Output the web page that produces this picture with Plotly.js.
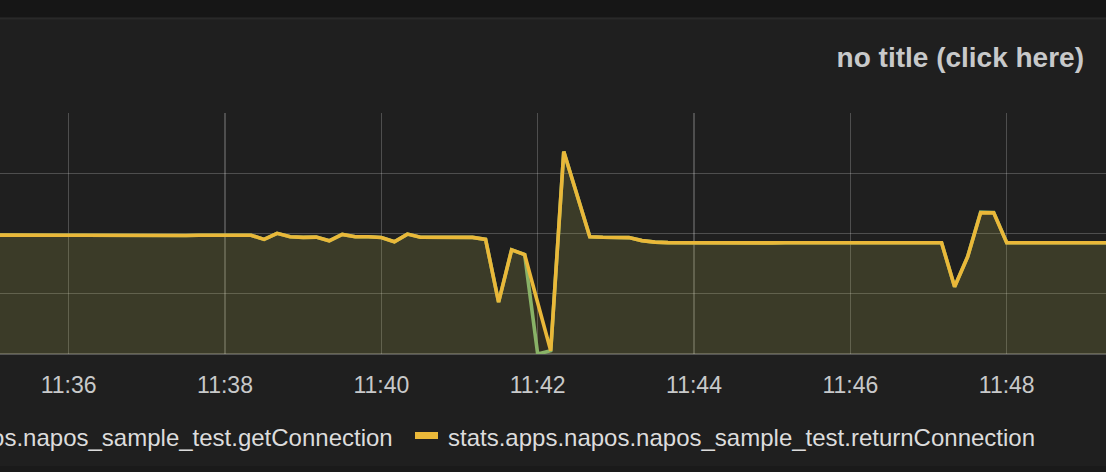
<!DOCTYPE html>
<html>
<head>
<meta charset="utf-8">
<script src="https://cdn.plot.ly/plotly-3.0.1.min.js"></script>
<style>
  html, body { margin: 0; padding: 0; background: #1f1f1f; }
  #chart { width: 1106px; height: 472px; }
</style>
</head>
<body>
<div id="chart"></div>
<script>
// ---- data ----
const day = "2015-06-10";
const times = [
  "11:35:00","11:35:10","11:35:20","11:35:30","11:35:40","11:35:50",
  "11:36:00","11:36:10","11:36:20","11:36:30","11:36:40","11:36:50",
  "11:37:00","11:37:10","11:37:20","11:37:30","11:37:40","11:37:50",
  "11:38:00","11:38:10","11:38:20","11:38:30","11:38:40","11:38:50",
  "11:39:00","11:39:10","11:39:20","11:39:30","11:39:40","11:39:50",
  "11:40:00","11:40:10","11:40:20","11:40:30","11:40:40","11:40:50",
  "11:41:00","11:41:10","11:41:20","11:41:30","11:41:40","11:41:50",
  "11:42:00","11:42:10","11:42:20","11:42:30","11:42:40","11:42:50",
  "11:43:00","11:43:10","11:43:20","11:43:30","11:43:40","11:43:50",
  "11:44:00","11:44:10","11:44:20","11:44:30","11:44:40","11:44:50",
  "11:45:00","11:45:10","11:45:20","11:45:30","11:45:40","11:45:50",
  "11:46:00","11:46:10","11:46:20","11:46:30","11:46:40","11:46:50",
  "11:47:00","11:47:10","11:47:20","11:47:30","11:47:40","11:47:50",
  "11:48:00","11:48:10","11:48:20","11:48:30","11:48:40","11:48:50",
  "11:49:00","11:49:10","11:49:20"
];
const returnConnection = [
  1.973,1.973,1.975,1.975,1.985,1.978,
  1.972,1.970,1.968,1.968,1.970,1.968,
  1.968,1.970,1.968,1.968,1.970,1.972,
  1.975,1.976,1.972,1.902,2.002,1.945,
  1.935,1.940,1.879,1.985,1.945,1.945,
  1.935,1.862,1.990,1.937,1.937,1.940,
  1.937,1.935,1.902,0.862,1.730,1.650,
  0.850,0.055,3.360,2.650,1.945,1.937,
  1.935,1.932,1.882,1.857,1.848,1.846,
  1.846,1.848,1.846,1.846,1.848,1.846,
  1.844,1.846,1.848,1.846,1.846,1.846,
  1.846,1.846,1.846,1.846,1.846,1.846,
  1.846,1.846,1.116,1.614,2.343,2.343,
  1.846,1.846,1.848,1.846,1.846,1.844,
  1.844,1.846,1.846
];
const getConnection = [
  1.973,1.973,1.975,1.975,1.985,1.978,
  1.972,1.970,1.968,1.968,1.970,1.968,
  1.968,1.970,1.968,1.968,1.970,1.972,
  1.975,1.976,1.972,1.902,2.002,1.945,
  1.935,1.940,1.879,1.985,1.945,1.945,
  1.935,1.862,1.990,1.937,1.937,1.940,
  1.937,1.935,1.902,0.862,1.730,1.650,
  0.000,0.055,3.360,2.650,1.945,1.937,
  1.935,1.932,1.882,1.857,1.848,1.846,
  1.846,1.848,1.846,1.846,1.848,1.846,
  1.844,1.846,1.848,1.846,1.846,1.846,
  1.846,1.846,1.846,1.846,1.846,1.846,
  1.846,1.846,1.116,1.614,2.355,2.350,
  1.846,1.846,1.848,1.846,1.846,1.844,
  1.844,1.846,1.846
];
const seriesNames = [
  "stats.apps.napos.napos_sample_test.getConnection",
  "stats.apps.napos.napos_sample_test.returnConnection"
];
const seriesColors = ["#7EB26D", "#EAB839"];
const panelTitle = "no title (click here)";
const xRange = ["11:35:07.3", "11:49:16.2"];
const firstTick = "11:36:00";

// ---- layout helpers (pixel -> paper) ----
const W = 1106, H = 472, mT = 113, mB = 118;
const plotH = H - mT - mB;
const px = x => x / W;
const py = y => (H - mB - y) / plotH;

const xs = times.map(t => day + " " + t);
const fonts = "'Liberation Sans', Arial, Helvetica, sans-serif";

const traces = [getConnection, returnConnection].map((vals, i) => ({
  type: "scatter",
  mode: "lines",
  name: seriesNames[i],
  x: xs,
  y: vals,
  line: { color: seriesColors[i], width: 3.6 },
  fill: "tozeroy",
  fillcolor: i === 0 ? "rgba(126,178,109,0.1)" : "rgba(234,184,57,0.1)",
  hoverinfo: "x+y+name"
}));

const layout = {
  width: W, height: H,
  margin: { l: 0, r: 0, t: mT, b: mB, pad: 0 },
  paper_bgcolor: "#1f1f1f",
  plot_bgcolor: "#1f1f1f",
  showlegend: false,
  title: {
    text: panelTitle,
    font: { family: fonts, size: 28, color: "#c8c9ca", weight: "bold" },
    xref: "paper", x: px(1084), xanchor: "right",
    yref: "container", y: 1 - 57 / H, yanchor: "middle"
  },
  xaxis: {
    type: "date",
    range: xRange.map(t => day + " " + t),
    tick0: day + " " + firstTick,
    dtick: 120000,
    tickformat: "%H:%M",
    showgrid: true,
    gridcolor: "rgba(255,255,255,0.21)",
    gridwidth: 1.2,
    zeroline: false,
    showline: false,
    ticks: "",
    ticklabelstandoff: 15,
    tickfont: { family: fonts, size: 23, color: "#c8c9ca" },
    fixedrange: true
  },
  yaxis: {
    range: [0, 4],
    dtick: 1,
    showticklabels: false,
    showgrid: true,
    gridcolor: "rgba(255,255,255,0.21)",
    gridwidth: 1.2,
    zeroline: true,
    zerolinecolor: "rgba(255,255,255,0.24)",
    zerolinewidth: 2,
    fixedrange: true
  },
  shapes: [
    { type: "rect", xref: "paper", yref: "paper", x0: 0, x1: 1, y0: py(0), y1: py(17.5),
      fillcolor: "#161616", line: { width: 0 }, layer: "below" },
    { type: "rect", xref: "paper", yref: "paper", x0: 0, x1: 1, y0: py(17.5), y1: py(19.5),
      fillcolor: "#292929", line: { width: 0 }, layer: "below" },
    { type: "rect", xref: "paper", yref: "paper", x0: 0, x1: 1, y0: py(466), y1: py(472),
      fillcolor: "#1a1a1a", line: { width: 0 }, layer: "below" },
    { type: "rect", xref: "paper", yref: "paper", x0: px(415), x1: px(438), y0: py(432), y1: py(439),
      fillcolor: seriesColors[1], line: { width: 0 } }
  ],
  annotations: [
    { xref: "paper", yref: "paper", x: px(394), y: py(437), xanchor: "right", yanchor: "middle",
      text: seriesNames[0], showarrow: false, borderpad: 0,
      font: { family: fonts, size: 24, color: "#dcdcdc" } },
    { xref: "paper", yref: "paper", x: px(447), y: py(437), xanchor: "left", yanchor: "middle",
      text: seriesNames[1], showarrow: false, borderpad: 0,
      font: { family: fonts, size: 24, color: "#dcdcdc" } }
  ]
};

Plotly.newPlot("chart", traces, layout, { displayModeBar: false, staticPlot: true });
</script>
</body>
</html>
